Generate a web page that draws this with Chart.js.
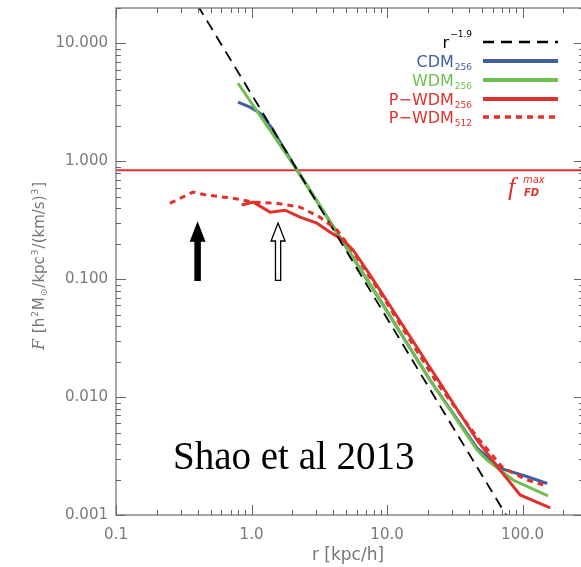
<!DOCTYPE html>
<html>
<head>
<meta charset="utf-8">
<script src="https://cdn.jsdelivr.net/npm/chart.js@4"></script>
<style>
  html, body { margin: 0; padding: 0; background: #fff; overflow: hidden; }
  #wrap { width: 600px; height: 567px; }
</style>
</head>
<body>
<div id="wrap"><canvas id="c" width="600" height="567"></canvas></div>
<script>
// Phase-space density profiles F(r), r in kpc/h
const cdm256R = [0.795, 0.975, 1.155, 1.42, 1.71, 2.17, 8.88, 20.8, 46.2, 68.2, 110, 152];
const cdm256F = [3.18, 2.88, 2.56, 1.91, 1.32, 0.843, 0.0665, 0.0139, 0.0037, 0.0025, 0.0021, 0.00185];

const wdm256R = [0.795, 2.17, 8.88, 20.8, 46.2, 54.7, 85.1, 154];
const wdm256F = [4.6, 0.843, 0.0665, 0.0139, 0.00356, 0.00292, 0.00198, 0.00145];

const pwdm256R = [0.847, 1.03, 1.37, 1.77, 2.28, 3.04, 3.80, 4.73, 5.61, 7.11, 8.88, 46.2, 68.2, 78.2, 95.9, 160];
const pwdm256F = [0.426, 0.451, 0.371, 0.385, 0.336, 0.299, 0.251, 0.215, 0.177, 0.119, 0.0807, 0.00431, 0.0024, 0.00198, 0.00148, 0.00115];

const pwdm512R = [0.25, 0.37, 0.47, 0.73, 1.03, 1.54, 2.28, 3.2, 4.28, 5.33, 9.33, 23.4, 46.2, 71.8, 108, 142];
const pwdm512F = [0.441, 0.548, 0.517, 0.487, 0.451, 0.441, 0.409, 0.336, 0.261, 0.187, 0.0705, 0.01315, 0.00458, 0.0025, 0.00198, 0.0018];

// r^-1.9 reference power law, end points
const powerLawR = [0.4, 80];
const powerLawF = [21.1, 0.000897];

// maximum fine-grained density f_FD^max
const fdMax = 0.84;

// arrows marking radii
const arrowR = [0.4, 1.57];
const arrowFill = ['#000000', '#ffffff'];
const arrowBaseF = 0.098;
const arrowTipF = 0.30;

// axes
const xMin = 0.1, xMax = 284;
const yMin = 0.001, yMax = 20;
const xTickValues = [0.1, 1, 10, 100];
const xTickLabels = ['0.1', '1.0', '10.0', '100.0'];
const yTickValues = [0.001, 0.01, 0.1, 1, 10];
const yTickLabels = ['0.001', '0.010', '0.100', '1.000', '10.000'];

const BLUE = '#41609f';
const GREEN = '#6dbf4e';
const RED = '#e0322c';
const AXIS = '#8a8a8a';
const TEXT = '#7a7a7a';

const pts = (r, f) => r.map((v, i) => ({ x: v, y: f[i] }));

const legendItems = [
  { main: 'r', script: '\u22121.9', sup: true, color: '#000', line: '#000', dash: [11, 7], width: 2.5 },
  { main: 'CDM', script: '256', color: BLUE, line: BLUE, dash: [], width: 4 },
  { main: 'WDM', script: '256', color: GREEN, line: GREEN, dash: [], width: 4 },
  { main: 'P\u2212WDM', script: '256', color: RED, line: RED, dash: [], width: 4 },
  { main: 'P\u2212WDM', script: '512', color: RED, line: RED, dash: [6, 5], width: 3.5 }
];

const decor = {
  id: 'decor',
  afterDatasetsDraw(chart) {
    const ctx = chart.ctx;
    const xs = chart.scales.x, ys = chart.scales.y;
    const { left, right, top, bottom } = chart.chartArea;
    ctx.save();

    // arrows
    arrowR.forEach((r, i) => {
      const x = xs.getPixelForValue(r);
      const yb = ys.getPixelForValue(arrowBaseF);
      const yt = ys.getPixelForValue(arrowTipF);
      const headH = 18, headW = 7, shaft = 2.6;
      ctx.beginPath();
      ctx.moveTo(x - shaft, yb);
      ctx.lineTo(x - shaft, yt + headH);
      ctx.lineTo(x - headW, yt + headH);
      ctx.lineTo(x, yt);
      ctx.lineTo(x + headW, yt + headH);
      ctx.lineTo(x + shaft, yt + headH);
      ctx.lineTo(x + shaft, yb);
      ctx.closePath();
      ctx.fillStyle = arrowFill[i];
      ctx.fill();
      ctx.lineWidth = 1.3;
      ctx.strokeStyle = '#000';
      ctx.stroke();
    });

    // f_FD^max label
    const fy = ys.getPixelForValue(fdMax);
    const fx = xs.getPixelForValue(78);
    ctx.fillStyle = RED;
    ctx.textAlign = 'left';
    ctx.textBaseline = 'alphabetic';
    ctx.font = 'italic 26px "Liberation Serif"';
    ctx.fillText('f', fx, fy + 25);
    ctx.font = 'italic 10px "DejaVu Sans"';
    ctx.fillText('max', fx + 15, fy + 13);
    ctx.font = 'italic bold 10px "DejaVu Sans"';
    ctx.fillText('FD', fx + 16, fy + 26);

    // annotation text
    ctx.fillStyle = '#000';
    ctx.font = '39px "Liberation Serif"';
    ctx.fillText('Shao et al 2013', 173, 469);

    // frame
    ctx.strokeStyle = AXIS;
    ctx.lineWidth = 1.5;
    ctx.strokeRect(left, top, right - left, bottom - top);

    // inward tick marks on all four sides
    ctx.strokeStyle = '#666';
    ctx.lineWidth = 1;
    ctx.beginPath();
    for (let e = -1; e <= 2; e++) {
      for (let m = 1; m <= 9; m++) {
        const v = m * Math.pow(10, e);
        if (v < xMin * 0.999 || v > xMax) continue;
        const px = Math.round(xs.getPixelForValue(v)) + 0.5;
        const len = m === 1 ? 10 : 5;
        ctx.moveTo(px, bottom); ctx.lineTo(px, bottom - len);
        ctx.moveTo(px, top); ctx.lineTo(px, top + len);
      }
    }
    for (let e = -3; e <= 1; e++) {
      for (let m = 1; m <= 9; m++) {
        const v = m * Math.pow(10, e);
        if (v < yMin * 0.999 || v > yMax) continue;
        const py = Math.round(ys.getPixelForValue(v)) + 0.5;
        const len = m === 1 ? 10 : 5;
        ctx.moveTo(left, py); ctx.lineTo(left + len, py);
        ctx.moveTo(right, py); ctx.lineTo(right - len, py);
      }
    }
    ctx.stroke();

    // legend
    const textRight = 472, lineX0 = 483, lineX1 = 558;
    const rowY = [42, 61, 80, 99, 117];
    legendItems.forEach((it, i) => {
      const y = rowY[i];
      ctx.font = '9px "DejaVu Sans"';
      const sw = ctx.measureText(it.script).width;
      ctx.font = '16px "DejaVu Sans"';
      const mw = ctx.measureText(it.main).width;
      ctx.fillStyle = it.color;
      ctx.textBaseline = 'alphabetic';
      ctx.textAlign = 'left';
      ctx.fillText(it.main, textRight - sw - mw - 1, y + 6);
      ctx.font = '9px "DejaVu Sans"';
      ctx.fillText(it.script, textRight - sw, it.sup ? y - 5 : y + 9);
      ctx.beginPath();
      ctx.setLineDash(it.dash);
      ctx.strokeStyle = it.line;
      ctx.lineWidth = it.width;
      ctx.moveTo(lineX0, y);
      ctx.lineTo(lineX1, y);
      ctx.stroke();
      ctx.setLineDash([]);
    });

    // axis titles
    ctx.fillStyle = '#777';
    ctx.textAlign = 'center';
    ctx.textBaseline = 'middle';
    ctx.font = '17px "DejaVu Sans"';
    ctx.fillText('r [kpc/h]', (left + right) / 2 - 2, 556);

    const parts = [
      { t: 'F', f: 'italic 16px "DejaVu Serif"', dy: 0 },
      { t: ' [h', f: '15px "DejaVu Sans"', dy: 0 },
      { t: '2', f: '9px "DejaVu Sans"', dy: -6 },
      { t: 'M', f: '15px "DejaVu Sans"', dy: 0 },
      { t: '\u2299', f: '9px "DejaVu Sans"', dy: 3 },
      { t: '/kpc', f: '15px "DejaVu Sans"', dy: 0 },
      { t: '3', f: '9px "DejaVu Sans"', dy: -6 },
      { t: '/(km/s)', f: '15px "DejaVu Sans"', dy: 0 },
      { t: '3', f: '9px "DejaVu Sans"', dy: -6 },
      { t: ']', f: '15px "DejaVu Sans"', dy: 0 }
    ];
    let total = 0;
    parts.forEach(p => { ctx.font = p.f; p.w = ctx.measureText(p.t).width + 1; total += p.w; });
    ctx.translate(44, (top + bottom) / 2 + 4);
    ctx.rotate(-Math.PI / 2);
    ctx.textAlign = 'left';
    ctx.textBaseline = 'alphabetic';
    let cx = -total / 2;
    parts.forEach(p => { ctx.font = p.f; ctx.fillText(p.t, cx, p.dy); cx += p.w; });
    ctx.restore();
  }
};

const curve = (label, r, f, color, dash, width) => ({
  label, data: pts(r, f), borderColor: color, borderDash: dash, borderWidth: width,
  pointRadius: 0, tension: 0, fill: false
});

new Chart(document.getElementById('c'), {
  type: 'line',
  data: {
    datasets: [
      curve('P-WDM512', pwdm512R, pwdm512F, RED, [6, 5], 3),
      curve('r^-1.9', powerLawR, powerLawF, '#000', [11, 7], 1.8),
      curve('P-WDM256', pwdm256R, pwdm256F, RED, [], 3),
      curve('WDM256', wdm256R, wdm256F, GREEN, [], 3),
      curve('CDM256', cdm256R, cdm256F, BLUE, [], 3),
      curve('fFDmax', [xMin, xMax], [fdMax, fdMax], RED, [], 2)
    ]
  },
  options: {
    responsive: false,
    animation: false,
    events: [],
    layout: { padding: { top: 8, right: 16, left: 0, bottom: 0 } },
    plugins: { legend: { display: false }, tooltip: { enabled: false } },
    scales: {
      x: {
        type: 'logarithmic', min: xMin, max: xMax, position: 'bottom',
        grid: { display: false, drawTicks: false }, border: { display: false },
        afterBuildTicks: s => { s.ticks = xTickValues.map(v => ({ value: v })); },
        afterFit: s => { s.height = 52; s.paddingLeft = 0; s.paddingRight = 0; },
        ticks: {
          autoSkip: false, maxRotation: 0, padding: 11, color: TEXT,
          font: { family: 'DejaVu Sans', size: 15 },
          callback: (v, i) => xTickLabels[i]
        }
      },
      y: {
        type: 'logarithmic', min: yMin, max: yMax, position: 'left',
        grid: { display: false, drawTicks: false }, border: { display: false },
        afterBuildTicks: s => { s.ticks = yTickValues.map(v => ({ value: v })); },
        afterFit: s => { s.width = 116; s.paddingTop = 0; s.paddingBottom = 0; },
        ticks: {
          autoSkip: false, padding: 8, color: TEXT,
          font: { family: 'DejaVu Sans', size: 15 },
          callback: (v, i) => yTickLabels[i]
        }
      }
    }
  },
  plugins: [decor]
});
</script>
</body>
</html>
